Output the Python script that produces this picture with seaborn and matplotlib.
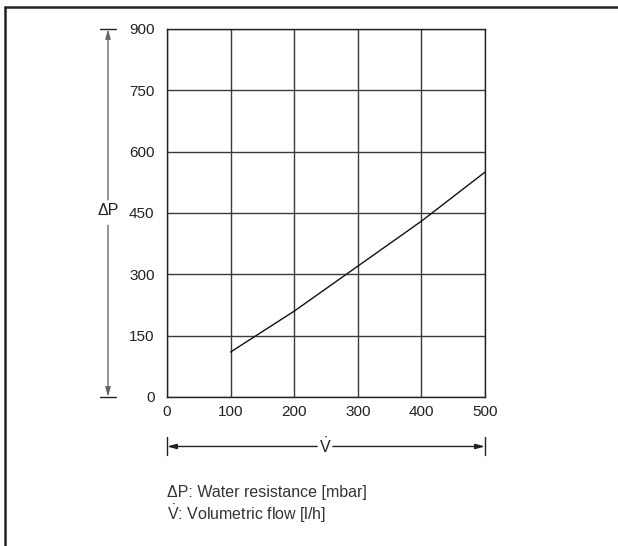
import numpy as np
import pandas as pd
import matplotlib
matplotlib.use("Agg")
import matplotlib.pyplot as plt
import seaborn as sns
from matplotlib.lines import Line2D

# Water resistance curve
flow = [100, 200, 300, 400, 500]          # volumetric flow [l/h]
resistance = [110, 210, 320, 430, 550]    # water resistance [mbar]

x_ticks = [0, 100, 200, 300, 400, 500]
y_ticks = [0, 150, 300, 450, 600, 750, 900]

sns.set_style("white")
plt.rcParams["font.family"] = ["Liberation Sans", "DejaVu Sans"]
plt.rcParams["mathtext.fontset"] = "custom"
plt.rcParams["mathtext.rm"] = "Liberation Sans"
plt.rcParams["mathtext.it"] = "Liberation Sans:italic"

df = pd.DataFrame({"flow": flow, "resistance": resistance})

fig = plt.figure(figsize=(6.18, 5.46), dpi=100)
ax = fig.add_axes([167 / 618, 1 - 397 / 546, 318 / 618, 368 / 546])

sns.lineplot(data=df, x="flow", y="resistance", ax=ax, color="#111111", lw=1.0)

ax.set_xlim(0, 500)
ax.set_ylim(0, 900)
ax.set_xticks(x_ticks)
ax.set_yticks(y_ticks)
ax.set_xticklabels([str(v) for v in x_ticks])
ax.set_yticklabels([str(v) for v in y_ticks])
ax.tick_params(axis="both", length=0, labelsize=11, colors="#222222")
ax.tick_params(axis="y", pad=9)
ax.tick_params(axis="x", pad=6)
ax.set_xlabel("")
ax.set_ylabel("")
ax.grid(True, color="#3a3a3a", lw=1.0)
for s in ax.spines.values():
    s.set_color("#222222")
    s.set_linewidth(1.0)

dim_color = "#666666"
arrow = dict(arrowstyle="-|>,head_length=0.55,head_width=0.15", color="#222222",
             lw=1.0, shrinkA=0, shrinkB=0)

# Vertical dimension arrow for ΔP
xd = -92.8
for yb in (0, 900):
    ax.plot([xd - 12.5, xd + 12.5], [yb, yb], color="#222222", lw=1.0, clip_on=False)
ax.annotate("", xy=(xd, 900), xytext=(xd, 482), xycoords="data", textcoords="data",
            arrowprops=dict(arrow, color=dim_color), annotation_clip=False)
ax.annotate("", xy=(xd, 0), xytext=(xd, 420), xycoords="data", textcoords="data",
            arrowprops=dict(arrow, color=dim_color), annotation_clip=False)
ax.text(xd, 455, "ΔP", ha="center", va="center", fontsize=11.5, color="#222222")

# Horizontal dimension arrow for V̇
yd = -121
for xb in (0, 500):
    ax.plot([xb, xb], [yd - 20, yd + 22], color="#222222", lw=1.0, clip_on=False)
ax.annotate("", xy=(0, yd), xytext=(236, yd), xycoords="data", textcoords="data",
            arrowprops=dict(arrow), annotation_clip=False)
ax.annotate("", xy=(500, yd), xytext=(261, yd), xycoords="data", textcoords="data",
            arrowprops=dict(arrow), annotation_clip=False)
ax.text(248.5, yd, r"$\dot{\mathrm{V}}$", ha="center", va="center", fontsize=11.5,
        color="#222222")

# Legend text below the chart
fig.text(167 / 618, 1 - 497 / 546, "ΔP: Water resistance [mbar]", ha="left",
         va="baseline", fontsize=11.5, color="#333333")
fig.text(167 / 618, 1 - 520 / 546, r"$\dot{\mathrm{V}}$: Volumetric flow [l/h]",
         ha="left", va="baseline", fontsize=11.5, color="#333333")

# Frame lines on the top and left edges
fig.add_artist(Line2D([4.5 / 618, 1.0], [1 - 6.5 / 546, 1 - 6.5 / 546],
                      transform=fig.transFigure, color="#222222", lw=1.8))
fig.add_artist(Line2D([4.5 / 618, 4.5 / 618], [0.0, 1 - 6.5 / 546],
                      transform=fig.transFigure, color="#222222", lw=1.8))

fig.savefig("out.png", dpi=100)
